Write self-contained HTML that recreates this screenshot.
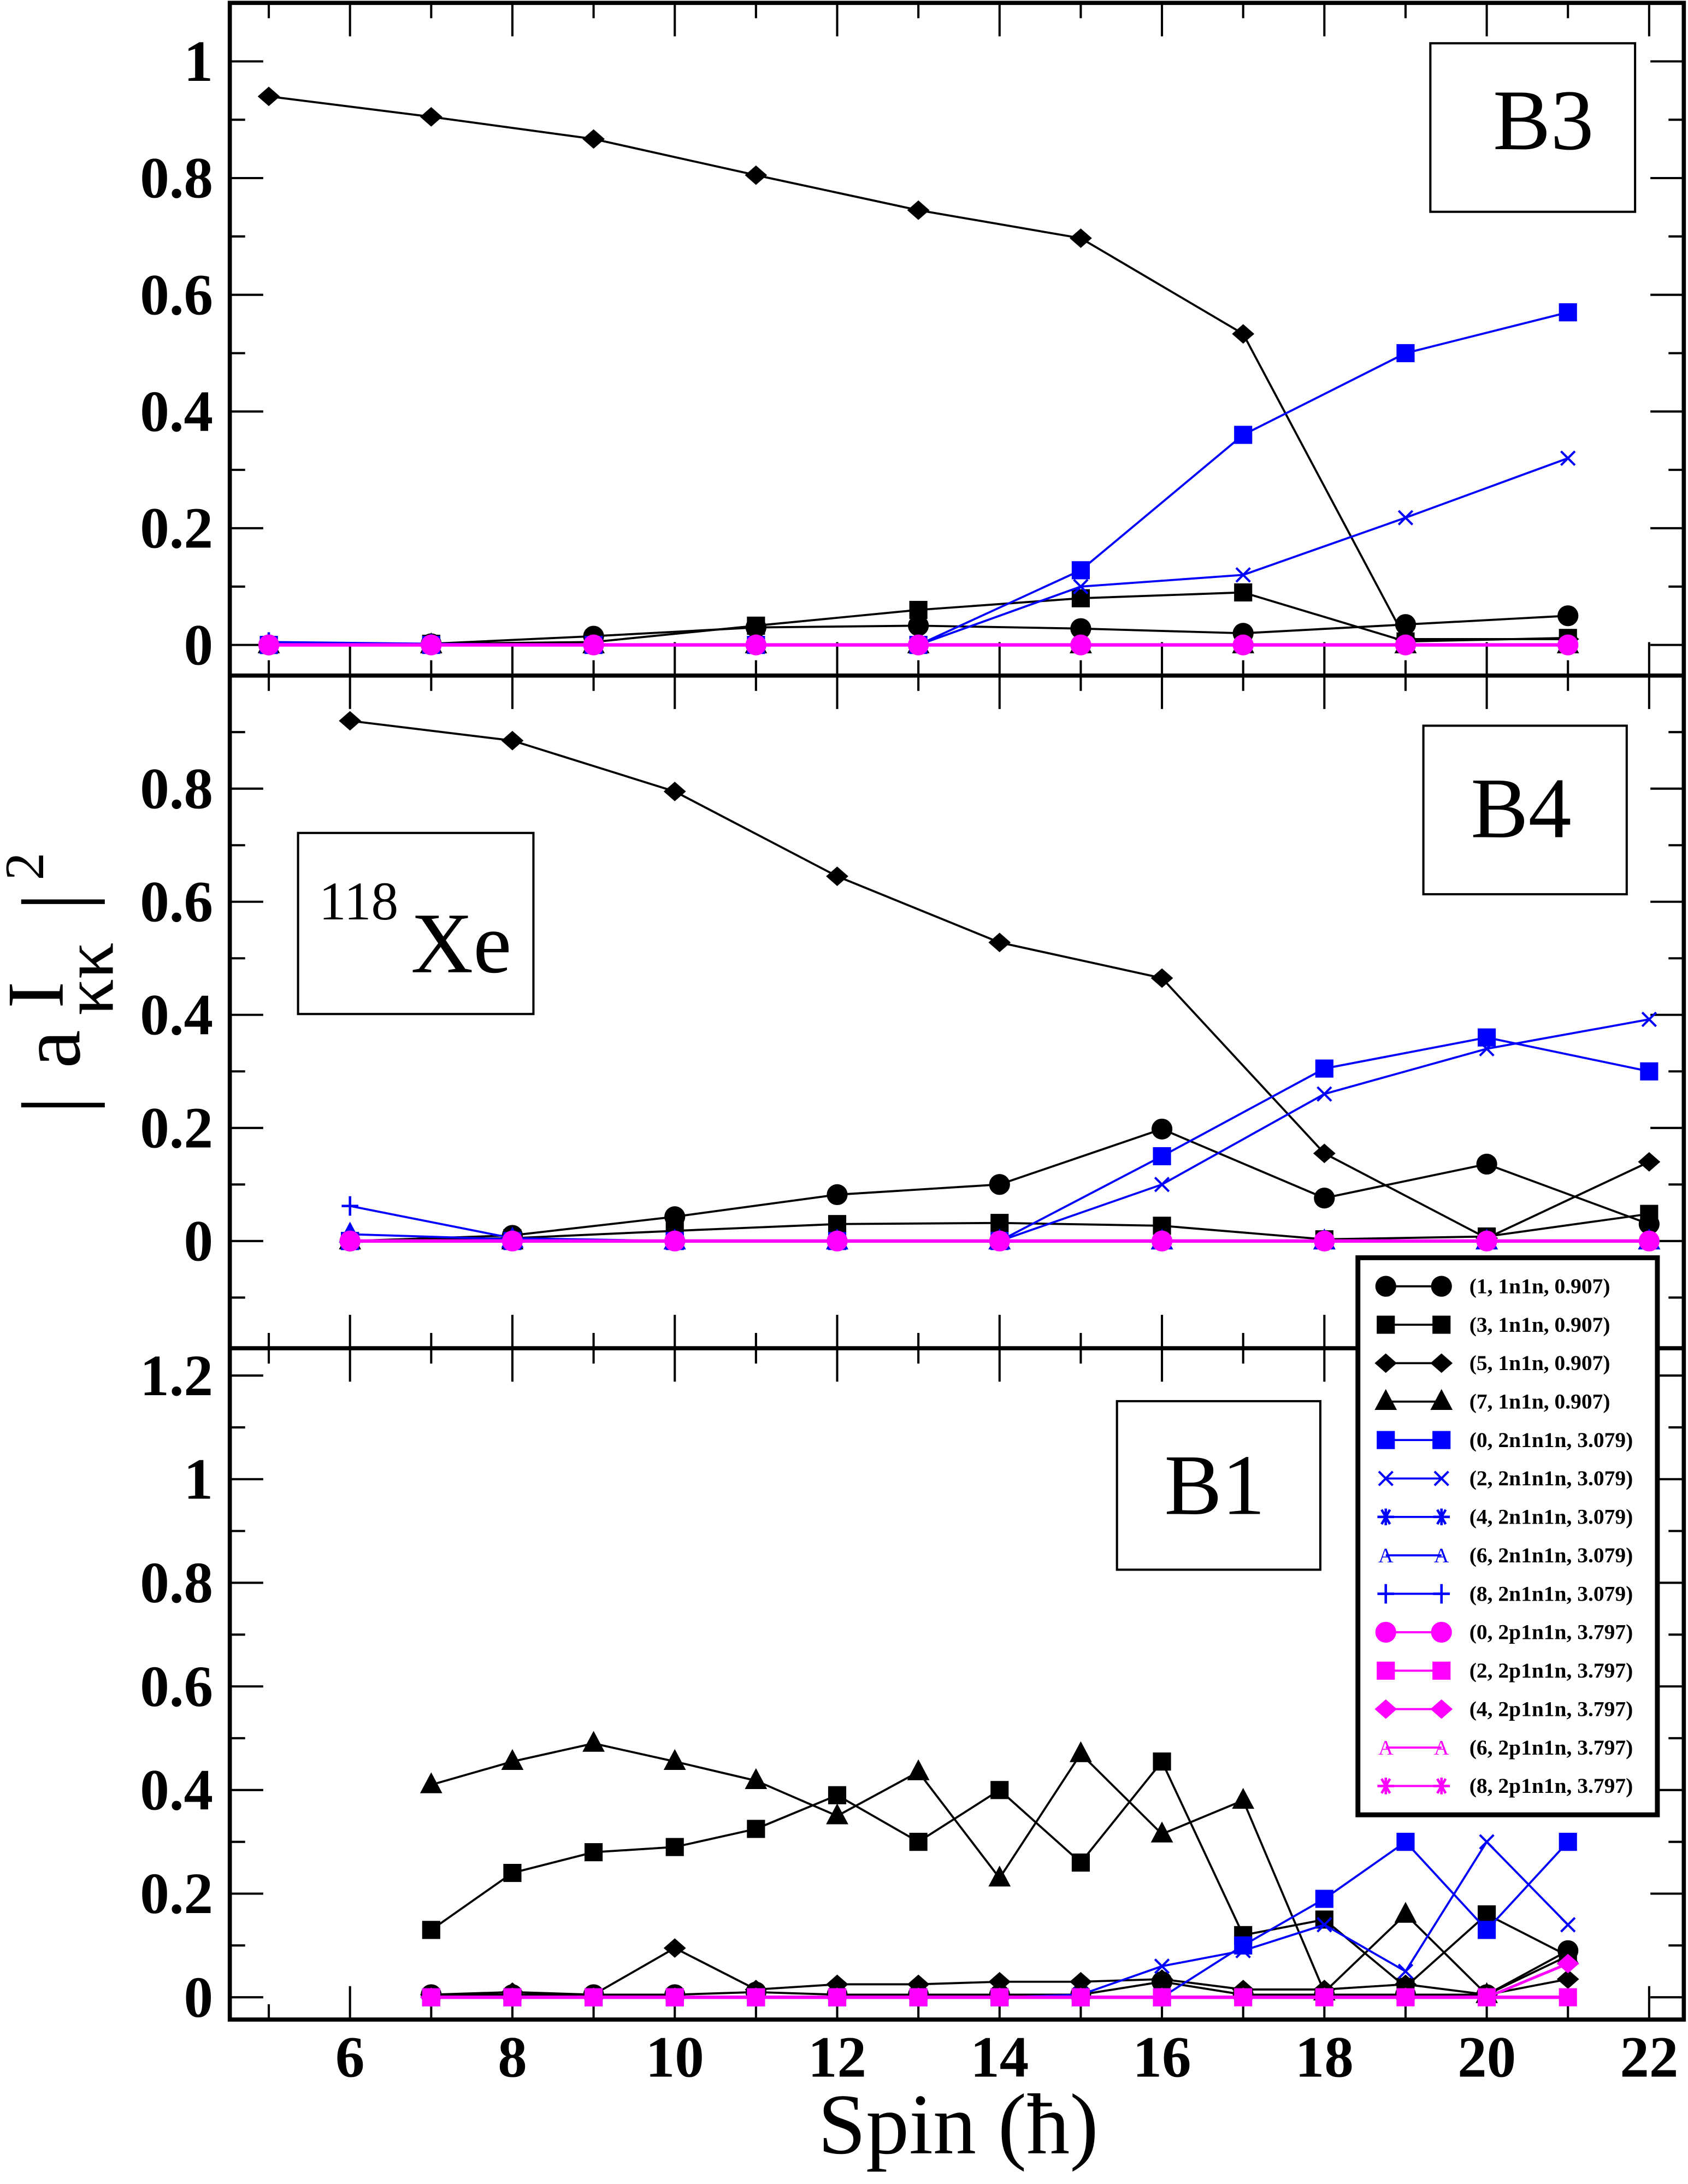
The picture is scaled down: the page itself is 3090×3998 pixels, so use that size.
<!DOCTYPE html>
<html><head><meta charset="utf-8"><style>html,body{margin:0;padding:0;background:#fff}svg{display:block}svg text{font-family:"Liberation Serif","DejaVu Serif",serif;font-weight:normal}svg text.b{font-weight:bold}</style></head>
<body>
<svg id="s" xmlns="http://www.w3.org/2000/svg" width="3090" height="3998" viewBox="0 0 1212 1568">
<rect width="1212" height="1568" fill="#fff"/>
<g id="g"></g>
</svg>
<script>
var NS="http://www.w3.org/2000/svg",G=document.getElementById("g");
function el(t,a,txt){var e=document.createElementNS(NS,t);for(var k in a)e.setAttribute(k,a[k]);if(txt!==undefined)e.textContent=txt;G.appendChild(e);return e;}
var L=165,R=1209,T=2,B=1450;
function X(x){return 193+(x-5)*58.3;}
var P=[{top:T,bot:485,y0:463,s:419},{top:485,bot:968,y0:891,s:406},{top:968,bot:B,y0:1434,s:372}];
P.forEach(function(p){
  for(var x=5;x<=22;x++){var len=(x%2==0)?24:11;
    el("line",{x1:X(x),x2:X(x),y1:p.bot,y2:p.bot-len,stroke:"#000","stroke-width":1.6});
    el("line",{x1:X(x),x2:X(x),y1:p.top,y2:p.top+len,stroke:"#000","stroke-width":1.6});}
  for(var i=-5;i<=14;i++){var v=i/10,y=p.y0-v*p.s;if(y<p.top+1||y>p.bot-1)continue;var len=(i%2==0)?24:11;
    el("line",{x1:L,x2:L+len,y1:y,y2:y,stroke:"#000","stroke-width":1.6});
    el("line",{x1:R,x2:R-len,y1:y,y2:y,stroke:"#000","stroke-width":1.6});}
});
function ylab(p,vals){vals.forEach(function(v){el("text",{"class":"b",x:153,y:p.y0-v*p.s+14,"text-anchor":"end","font-size":42},String(v));});}
ylab(P[0],[0,0.2,0.4,0.6,0.8,1]);ylab(P[1],[0,0.2,0.4,0.6,0.8]);ylab(P[2],[0,0.2,0.4,0.6,0.8,1,1.2]);
for(var x=6;x<=22;x+=2)el("text",{"class":"b",x:X(x),y:1491,"text-anchor":"middle","font-size":42},String(x));
el("text",{x:688,y:1546,"text-anchor":"middle","font-size":62},"Spin (ħ)");
function mk(type,x,y,c){
  if(type=="c")el("circle",{cx:x,cy:y,r:7.5,fill:c});
  else if(type=="s")el("rect",{x:x-6.5,y:y-6.5,width:13,height:13,fill:c});
  else if(type=="d")el("polygon",{points:(x-8)+","+y+" "+x+","+(y-7)+" "+(x+8)+","+y+" "+x+","+(y+7),fill:c});
  else if(type=="t")el("polygon",{points:(x-8)+","+(y+6)+" "+x+","+(y-9)+" "+(x+8)+","+(y+6),fill:c});
  else if(type=="x"){el("line",{x1:x-5,y1:y-5,x2:x+5,y2:y+5,stroke:c,"stroke-width":1.6});el("line",{x1:x-5,y1:y+5,x2:x+5,y2:y-5,stroke:c,"stroke-width":1.6});}
  else if(type=="p"){el("line",{x1:x-6,y1:y,x2:x+6,y2:y,stroke:c,"stroke-width":1.8});el("line",{x1:x,y1:y-7,x2:x,y2:y+7,stroke:c,"stroke-width":1.8});}
  else if(type=="a"){for(var k=0;k<3;k++){var an=k*Math.PI/3;el("line",{x1:x-6*Math.cos(an),y1:y-6*Math.sin(an),x2:x+6*Math.cos(an),y2:y+6*Math.sin(an),stroke:c,"stroke-width":1.8});}el("line",{x1:x,y1:y-6,x2:x,y2:y+6,stroke:c,"stroke-width":1.8});}
}
function ser(p,xs,vs,type,c,w){var pts=xs.map(function(x,i){return [X(x),p.y0-vs[i]*p.s];});
  el("polyline",{points:pts.map(function(q){return q.join(",")}).join(" "),fill:"none",stroke:c,"stroke-width":w||1.5});
  pts.forEach(function(q){mk(type,q[0],q[1],c);});}
var K="#000",BL="#0000ff",M="#ff00ff";
var xa=[5,7,9,11,13,15,17,19,21];
ser(P[0],xa,[0,0,0,0,0,0,0,0,0],"t",K);
ser(P[0],xa,[0,0.002,0.005,0.033,0.06,0.08,0.09,0.006,0.012],"s",K);
ser(P[0],xa,[0,0.002,0.015,0.03,0.033,0.028,0.02,0.035,0.05],"c",K);
ser(P[0],xa,[0.94,0.905,0.867,0.805,0.745,0.697,0.533,0.01,0.01],"d",K);
ser(P[0],xa,[0.005,0.002,0,0,0,0,0,0,0],"p",BL);
ser(P[0],xa,[0,0,0,0,0,0.1,0.12,0.218,0.32],"x",BL);
ser(P[0],xa,[0,0,0,0,0,0.128,0.36,0.5,0.57],"s",BL);
ser(P[0],xa,[0,0,0,0,0,0,0,0,0],"c",M,2.5);
var xb=[6,8,10,12,14,16,18,20,22];
ser(P[1],xb,[0,0,0,0,0,0,0,0,0],"t",K);
ser(P[1],xb,[0,0.005,0.018,0.03,0.032,0.027,0.003,0.008,0.048],"s",K);
ser(P[1],xb,[0,0.01,0.043,0.082,0.1,0.198,0.076,0.136,0.03],"c",K);
ser(P[1],xb,[0.92,0.885,0.795,0.645,0.528,0.465,0.155,0.005,0.14],"d",K);
ser(P[1],xb,[0.012,0.003,0,0,0,0,0,0,0],"t",BL);
ser(P[1],xb,[0.062,0.005,0,0,0,0,0,0,0],"p",BL);
ser(P[1],xb,[0,0,0,0,0,0.1,0.26,0.34,0.392],"x",BL);
ser(P[1],xb,[0,0,0,0,0,0.15,0.305,0.36,0.3],"s",BL);
ser(P[1],xb,[0,0,0,0,0,0,0,0,0],"c",M,2.5);
var xc=[7,8,9,10,11,12,13,14,15,16,17,18,19,20,21];
ser(P[2],xc,[0.41,0.455,0.49,0.455,0.418,0.35,0.435,0.23,0.47,0.315,0.38,0.01,0.16,0.005,0.08],"t",K);
ser(P[2],xc,[0.13,0.24,0.28,0.29,0.325,0.39,0.3,0.4,0.26,0.455,0.12,0.15,0.02,0.16,0.08],"s",K);
ser(P[2],xc,[0.005,0.01,0.005,0.095,0.015,0.025,0.025,0.03,0.03,0.035,0.015,0.015,0.025,0.005,0.035],"d",K);
ser(P[2],xc,[0.005,0.005,0.005,0.005,0.01,0.005,0.005,0.005,0.005,0.03,0.005,0.005,0.005,0.005,0.09],"c",K);
ser(P[2],xc,[0,0,0,0,0,0,0,0,0.005,0.06,0.09,0.14,0.05,0.3,0.14],"x",BL);
ser(P[2],xc,[0,0,0,0,0,0,0,0,0,0,0.1,0.19,0.3,0.13,0.3],"s",BL);
ser(P[2],xc,[0,0,0,0,0,0,0,0,0,0,0,0,0,0,0.065],"d",M,2);
ser(P[2],xc,[0,0,0,0,0,0,0,0,0,0,0,0,0,0,0],"s",M,2.5);
el("rect",{x:L,y:T,width:R-L,height:B-T,fill:"none",stroke:"#000","stroke-width":3});
el("line",{x1:L,x2:R,y1:485,y2:485,stroke:"#000","stroke-width":3});
el("line",{x1:L,x2:R,y1:968,y2:968,stroke:"#000","stroke-width":3});
function box(x1,y1,x2,y2){el("rect",{x:x1,y:y1,width:x2-x1,height:y2-y1,fill:"#fff",stroke:"#000","stroke-width":1.6});}
box(1027,31,1174,152);el("text",{x:1072,y:107,"font-size":62},"B3");
box(1022,521,1168,642);el("text",{x:1056,y:601,"font-size":62},"B4");
box(802,1006,948,1127);el("text",{x:836,y:1087,"font-size":62},"B1");
box(214,598,383,728);el("text",{x:229,y:660,"font-size":39},"118");el("text",{x:295,y:698,"font-size":62},"Xe");
el("rect",{x:975,y:903,width:215,height:400,fill:"#fff",stroke:"#000","stroke-width":3.5});
var LG=[["c",K,"(1, 1n1n, 0.907)"],["s",K,"(3, 1n1n, 0.907)"],["d",K,"(5, 1n1n, 0.907)"],["t",K,"(7, 1n1n, 0.907)"],
["s",BL,"(0, 2n1n1n, 3.079)"],["x",BL,"(2, 2n1n1n, 3.079)"],["a",BL,"(4, 2n1n1n, 3.079)"],["A",BL,"(6, 2n1n1n, 3.079)"],["p",BL,"(8, 2n1n1n, 3.079)"],
["c",M,"(0, 2p1n1n, 3.797)"],["s",M,"(2, 2p1n1n, 3.797)"],["d",M,"(4, 2p1n1n, 3.797)"],["A",M,"(6, 2p1n1n, 3.797)"],["a",M,"(8, 2p1n1n, 3.797)"]];
LG.forEach(function(r,i){var y=923.5+i*27.6;
  el("line",{x1:995,x2:1035,y1:y,y2:y,stroke:r[1],"stroke-width":1.5});
  [995,1035].forEach(function(x){
    if(r[0]=="A")el("text",{x:x,y:y+5,"text-anchor":"middle","font-size":15,fill:r[1]},"A");
    else mk(r[0],x,y,r[1]);});
  el("text",{"class":"b",x:1055,y:y+5,"font-size":15.5},r[2]);
});
var yl=document.createElementNS(NS,"g");yl.setAttribute("transform","translate(57,0) rotate(-90)");G.appendChild(yl);
function yt(x,y,fs,t){var e=document.createElementNS(NS,"text");e.setAttribute("x",x);e.setAttribute("y",y);e.setAttribute("font-size",fs);e.textContent=t;yl.appendChild(e);}
yt(-800,4,66,"|");yt(-767,0,62,"a");yt(-724,-12,58,"I");yt(-729,24,52,"κκ");yt(-654,4,66,"|");yt(-632,-26,40,"2");
</script>
</body></html>
